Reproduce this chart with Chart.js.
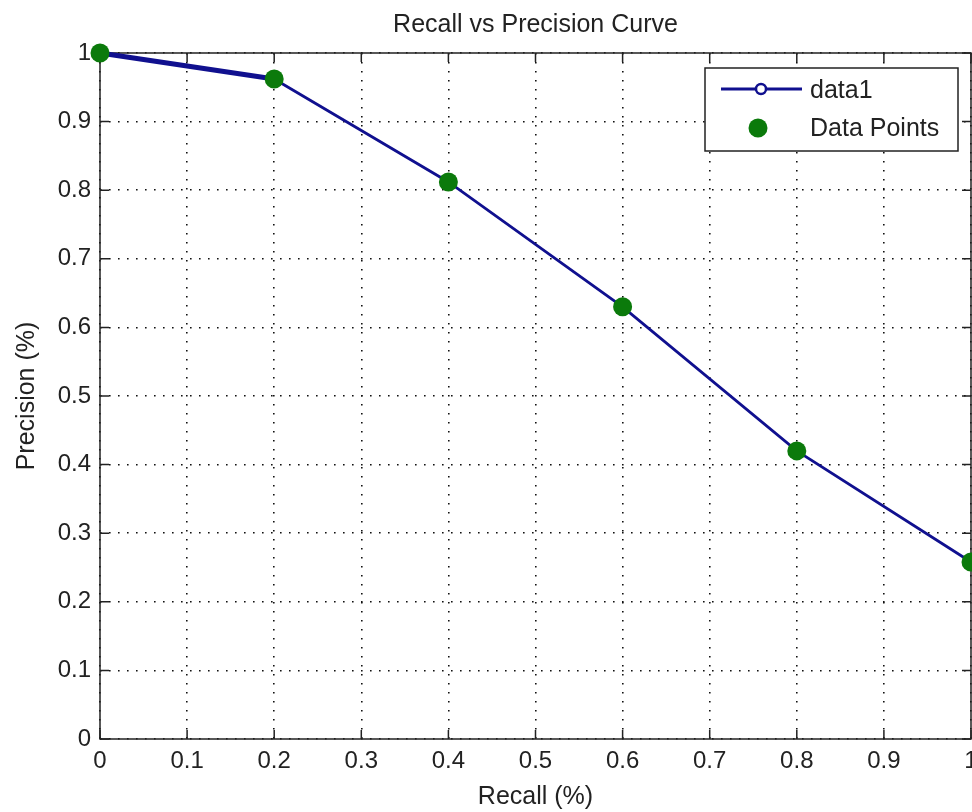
<!DOCTYPE html>
<html>
<head>
<meta charset="utf-8">
<title>Recall vs Precision Curve</title>
<script src="https://cdn.jsdelivr.net/npm/chart.js@4.4.1/dist/chart.umd.min.js"></script>
<style>
    html, body { margin: 0; padding: 0; background: #fff; }
    canvas { display: block; }
</style>
</head>
<body>
<canvas id="prChart" width="972" height="812"></canvas>
<script>
// values
const recall = [0, 0.2, 0.4, 0.6, 0.8, 1];
const precision = [1, 0.962, 0.812, 0.63, 0.42, 0.258];
const xTickLabels = ["0", "0.1", "0.2", "0.3", "0.4", "0.5", "0.6", "0.7", "0.8", "0.9", "1"];
const yTickLabels = ["0", "0.1", "0.2", "0.3", "0.4", "0.5", "0.6", "0.7", "0.8", "0.9", "1"];
const seriesNames = ["data1", "Data Points"];

const lineColor = "#10108f";
const dotColor = "#0b7a0b";
const inkColor = "#222";
const fontFamily = '"Liberation Sans", Arial, sans-serif';

const points = recall.map((r, i) => ({ x: r, y: precision[i] }));

// box round the plot, with matlab style ticks pointing inwards
const framePlugin = {
    id: "frame",
    beforeDatasetsDraw(chart) {
        const ctx = chart.ctx;
        const area = chart.chartArea;
        const xs = chart.scales.x;
        const ys = chart.scales.y;
        const len = 9;
        ctx.save();
        ctx.strokeStyle = inkColor;
        ctx.lineWidth = 1.5;
        ctx.beginPath();
        xs.ticks.forEach((t) => {
            const px = xs.getPixelForValue(t.value);
            ctx.moveTo(px, area.bottom);
            ctx.lineTo(px, area.bottom - len);
            ctx.moveTo(px, area.top);
            ctx.lineTo(px, area.top + len);
        });
        ys.ticks.forEach((t) => {
            const py = ys.getPixelForValue(t.value);
            ctx.moveTo(area.left, py);
            ctx.lineTo(area.left + len, py);
            ctx.moveTo(area.right, py);
            ctx.lineTo(area.right - len, py);
        });
        ctx.stroke();
        ctx.strokeRect(area.left, area.top, area.right - area.left, area.bottom - area.top);
        ctx.restore();
    }
};

// legend box in the top right corner
const legendBoxPlugin = {
    id: "legendBox",
    afterDraw(chart) {
        const ctx = chart.ctx;
        const area = chart.chartArea;
        const w = 253, h = 83;
        const x0 = area.right - 13 - w;
        const y0 = area.top + 15;
        ctx.save();
        ctx.fillStyle = "#fff";
        ctx.fillRect(x0, y0, w, h);
        ctx.strokeStyle = inkColor;
        ctx.lineWidth = 1.5;
        ctx.strokeRect(x0, y0, w, h);

        // data1: line with open circle
        const y1 = y0 + 21;
        ctx.strokeStyle = lineColor;
        ctx.lineWidth = 3;
        ctx.beginPath();
        ctx.moveTo(x0 + 16, y1);
        ctx.lineTo(x0 + 97, y1);
        ctx.stroke();
        ctx.fillStyle = "#fff";
        ctx.lineWidth = 2.5;
        ctx.beginPath();
        ctx.arc(x0 + 56, y1, 5, 0, Math.PI * 2);
        ctx.fill();
        ctx.stroke();

        // data points: green dot
        const y2 = y0 + 60;
        ctx.fillStyle = dotColor;
        ctx.beginPath();
        ctx.arc(x0 + 53, y2, 9.5, 0, Math.PI * 2);
        ctx.fill();

        ctx.fillStyle = inkColor;
        ctx.font = "25px " + fontFamily;
        ctx.textBaseline = "middle";
        ctx.textAlign = "left";
        ctx.fillText(seriesNames[0], x0 + 105, y1 + 2);
        ctx.fillText(seriesNames[1], x0 + 105, y2 + 1);
        ctx.restore();
    }
};

new Chart("prChart", {
    type: "line",
    data: {
        datasets: [{
            label: seriesNames[0],
            data: points,
            borderColor: lineColor,
            borderWidth: 2.8,
            segment: {
                borderWidth: (c) => c.p0DataIndex === 0 ? 5 : 2.8
            },
            pointStyle: "circle",
            pointRadius: 5,
            pointBackgroundColor: "rgba(0,0,0,0)",
            pointBorderColor: lineColor,
            pointBorderWidth: 2,
            tension: 0,
            clip: false,
            order: 1
        }, {
            label: seriesNames[1],
            data: points,
            showLine: false,
            pointRadius: 9.5,
            pointBackgroundColor: dotColor,
            pointBorderColor: dotColor,
            pointBorderWidth: 0,
            clip: false,
            order: 0
        }]
    },
    options: {
        responsive: false,
        animation: false,
        layout: { autoPadding: false, padding: { left: 0, right: 1, top: 0, bottom: 0 } },
        plugins: {
            legend: { display: false },
            tooltip: { enabled: false },
            title: {
                display: true,
                fullSize: false,
                text: "Recall vs Precision Curve",
                color: inkColor,
                font: { family: fontFamily, size: 25, weight: "normal" },
                padding: { top: 10, bottom: 13 }
            }
        },
        scales: {
            x: {
                type: "linear",
                min: 0,
                max: 1,
                ticks: {
                    stepSize: 0.1,
                    autoSkip: false,
                    maxRotation: 0,
                    padding: 8,
                    color: inkColor,
                    font: { family: fontFamily, size: 24 },
                    callback: (v, i) => xTickLabels[i]
                },
                grid: { color: "#111", lineWidth: 1.6, drawTicks: false },
                border: { display: false, dash: [1.6, 7.4] },
                title: {
                    display: true,
                    text: "Recall (%)",
                    color: inkColor,
                    font: { family: fontFamily, size: 25 },
                    padding: { top: 0, bottom: 0 }
                },
                afterFit(scale) {
                    scale.height = 73;
                    scale.paddingLeft = 0;
                    scale.paddingRight = 0;
                }
            },
            y: {
                min: 0,
                max: 1,
                ticks: {
                    stepSize: 0.1,
                    autoSkip: false,
                    padding: 9,
                    color: inkColor,
                    font: { family: fontFamily, size: 24 },
                    callback: (v, i) => yTickLabels[i]
                },
                grid: { color: "#111", lineWidth: 1.6, drawTicks: false },
                border: { display: false, dash: [1.6, 7.4] },
                title: {
                    display: true,
                    text: "Precision (%)",
                    color: inkColor,
                    font: { family: fontFamily, size: 25 },
                    padding: { top: 12, bottom: 0 }
                },
                afterFit(scale) {
                    scale.width = 100;
                    scale.paddingTop = 0;
                    scale.paddingBottom = 0;
                }
            }
        }
    },
    plugins: [framePlugin, legendBoxPlugin]
});
</script>
</body>
</html>
